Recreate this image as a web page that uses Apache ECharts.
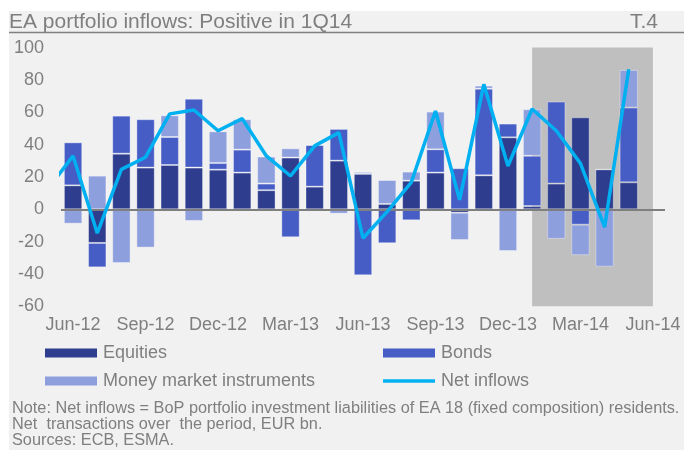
<!DOCTYPE html>
<html><head><meta charset="utf-8">
<script src="https://cdn.jsdelivr.net/npm/echarts@6/dist/echarts.min.js"></script>
<style>html,body{margin:0;padding:0;background:#fff}#c{width:684px;height:450px}</style>
</head><body><div id="c"></div>
<script>
// ---- data ----
const months = ['Jun-12','Jul-12','Aug-12','Sep-12','Oct-12','Nov-12','Dec-12','Jan-13','Feb-13','Mar-13','Apr-13','May-13',
  'Jun-13','Jul-13','Aug-13','Sep-13','Oct-13','Nov-13','Dec-13','Jan-14','Feb-14','Mar-14','Apr-14','May-14','Jun-14'];
const equities    = [14.8,-20.8,34.4,25.8,27.4,25.8,24.5,22.7,11.8,32.0,14.0,30.1,21.9,3.3,17.7,22.7,-2.1,21.0,44.5,2.0,15.9,56.9,24.7,16.7,null];
const bonds       = [26.6,-15.1,23.5,29.9,17.3,42.6,4.1,14.2,4.1,-17.3,25.8,19.6,-40.8,-21.0,-6.8,14.4,25.4,53.6,8.5,31.1,50.7,-9.5,0,46.2,null];
const moneyMarket = [-8.9,20.8,-33.2,-23.7,13.4,-7.2,19.6,18.8,16.7,5.7,0,-2.7,1.2,14.8,5.6,23.3,-16.9,1.9,-25.8,28.8,-18.3,-18.9,-35.5,23.3,null];
const netInflowsMay12 = 13.5; // previous month, only its segment into Jun-12 is visible
const netInflows  = [33.0,-14.8,24.7,32.2,59.0,61.4,48.6,56.1,33.0,20.6,39.2,47.4,-17.9,-1.4,16.7,60.8,5.8,77.3,26.8,62.0,48.6,28.4,-11.1,86.6];
const shadeFrom = 'Jan-14', shadeTo = 'Jun-14';
const yMin = -60, yMax = 100, yStep = 20;
const seriesNames = ['Equities','Bonds','Money market instruments','Net inflows'];
const titleText = 'EA portfolio inflows: Positive in 1Q14';
const tagText = 'T.4';
const noteLines = ['Note: Net inflows = BoP portfolio investment liabilities of EA 18 (fixed composition) residents.',
  'Net  transactions over  the period, EUR bn.', 'Sources: ECB, ESMA.'];

// ---- style ----
const C = {eq:'#2E3D8E', bo:'#475DC6', mm:'#8E9FDE', line:'#00B0F0', shade:'#BFBFBF', bg:'#F1F1F1', text:'#7F7F7F'};
const FONT = 'Liberation Sans, Arial, sans-serif';

const lineData = [[-1, netInflowsMay12]].concat(netInflows.map((v,i)=>[i,v]));
const barBase = {type:'bar', stack:'total', barWidth:'76%', xAxisIndex:0,
  itemStyle:{borderColor:'rgba(255,255,255,0.35)', borderWidth:1}, silent:true};

const legendItem = (name, left, top, h) => ({
  data:[{name, icon:'rect'}], left, top, padding:0, itemWidth:52, itemHeight:h, itemGap:0,
  itemStyle:{borderWidth:0},
  textStyle:{color:C.text, fontSize:18, fontFamily:FONT, lineHeight:20, padding:[0,0,0,1]}, selectedMode:false
});

const chart = echarts.init(document.getElementById('c'), null, {renderer:'canvas'});
chart.setOption({
  animation:false,
  backgroundColor:'#fff',
  graphic:[
    {type:'rect', shape:{x:9,y:11,width:675,height:439}, style:{fill:C.bg}, z:-10, silent:true},
    {type:'line', shape:{x1:9,y1:32.5,x2:684,y2:32.5}, style:{stroke:'#808080', lineWidth:1.5}, silent:true},
    {type:'text', x:9, y:22, style:{text:titleText, font:'21px '+FONT, fill:C.text, verticalAlign:'middle'}, silent:true},
    {type:'text', x:658, y:22, style:{text:tagText, font:'21px '+FONT, fill:C.text, verticalAlign:'middle', align:'right'}, silent:true},
    ...noteLines.map((t,i)=>({type:'text', x:12, y:408.5+16*i, style:{text:t, font:'16.3px '+FONT, fill:C.text, verticalAlign:'middle'}, silent:true}))
  ],
  legend:[
    legendItem(seriesNames[0], 45, 343, 9),
    legendItem(seriesNames[2], 45, 371, 9),
    legendItem(seriesNames[1], 383, 343, 9),
    legendItem(seriesNames[3], 383, 371, 3.5)
  ],
  grid:{left:61, right:19, top:47.6, bottom:143.7, containLabel:false},
  xAxis:[
    {type:'category', data:months, boundaryGap:true,
      axisLine:{show:false}, axisTick:{show:false}, splitLine:{show:false},
      axisLabel:{interval:2, color:C.text, fontSize:18, fontFamily:FONT, margin:10}},
    {type:'value', min:-0.5, max:months.length-0.5, show:false}
  ],
  yAxis:{type:'value', min:yMin, max:yMax, interval:yStep,
    axisLine:{show:false}, axisTick:{show:false}, splitLine:{show:false},
    axisLabel:{color:C.text, fontSize:18, fontFamily:FONT, margin:17}},
  series:[
    Object.assign({}, barBase, {name:seriesNames[0], data:equities, itemStyle:Object.assign({}, barBase.itemStyle, {color:C.eq}),
      markArea:{silent:true, z:1, itemStyle:{color:C.shade}, data:[[{xAxis:shadeFrom},{xAxis:shadeTo}]]}}),
    Object.assign({}, barBase, {name:seriesNames[1], data:bonds, itemStyle:Object.assign({}, barBase.itemStyle, {color:C.bo}),
      markLine:{silent:true, symbol:'none', label:{show:false}, lineStyle:{color:'#7F7F7F', width:2, type:'solid'}, data:[{yAxis:0}]}}),
    Object.assign({}, barBase, {name:seriesNames[2], data:moneyMarket, itemStyle:Object.assign({}, barBase.itemStyle, {color:C.mm})}),
    {type:'line', name:seriesNames[3], xAxisIndex:1, data:lineData, symbol:'none', clip:true, z:6, silent:true,
      lineStyle:{color:C.line, width:3.5}, itemStyle:{color:C.line}}
  ]
});
</script></body></html>
